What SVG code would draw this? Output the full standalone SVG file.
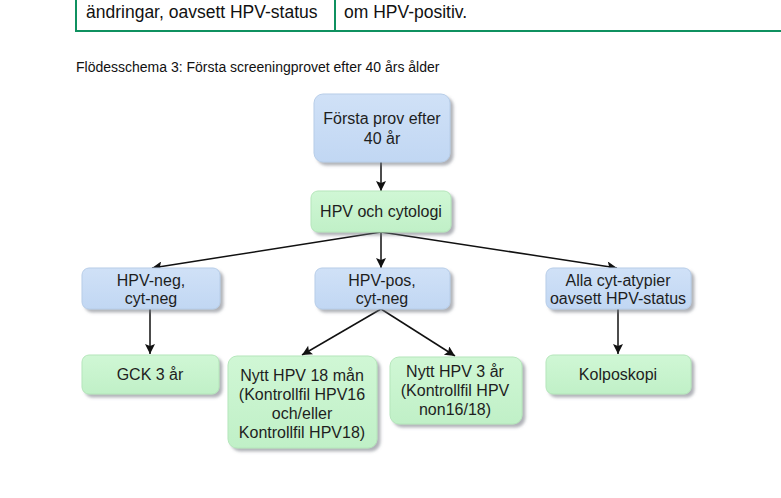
<svg xmlns="http://www.w3.org/2000/svg" width="781" height="498" viewBox="0 0 781 498">
<style>
.t{font-family:"Liberation Sans",Arial,sans-serif;fill:#1e1e1e;text-anchor:middle;font-size:16px}
.hdr{font-family:"Liberation Sans",Arial,sans-serif;fill:#111;font-size:17.5px}
.cap{font-family:"Liberation Sans",Arial,sans-serif;fill:#111;font-size:14px}
.blue{fill:url(#gb);stroke:#b7cde8;stroke-width:1;filter:url(#sh)}
.green{fill:url(#gg);stroke:#b5e6bb;stroke-width:1;filter:url(#sh)}
.c{stroke:#111;stroke-width:1.5;fill:none;marker-end:url(#ah)}
</style>
<defs>
<linearGradient id="gb" x1="0" y1="0" x2="0" y2="1"><stop offset="0" stop-color="#d0e1f7"/><stop offset="1" stop-color="#c1d7f3"/></linearGradient>
<linearGradient id="gg" x1="0" y1="0" x2="0" y2="1"><stop offset="0" stop-color="#d0f7d5"/><stop offset="1" stop-color="#c0f0c7"/></linearGradient>
<filter id="sh" x="-10%" y="-10%" width="130%" height="140%"><feDropShadow dx="3" dy="3" stdDeviation="1.8" flood-color="#6f7680" flood-opacity="0.55"/></filter>
<marker id="ah" viewBox="0 0 10 10" refX="10" refY="5" markerWidth="11" markerHeight="10" orient="auto" markerUnits="userSpaceOnUse"><path d="M0,0 L10,5 L0,10 L2,5 z" fill="#111"/></marker>
</defs>
<rect width="781" height="498" fill="#fff"/>
<g id="table">
<line x1="76" y1="0" x2="76" y2="32" stroke="#0f9160" stroke-width="2"/>
<line x1="335" y1="0" x2="335" y2="32" stroke="#0f9160" stroke-width="2"/>
<line x1="75" y1="31" x2="781" y2="31" stroke="#0f9160" stroke-width="2"/>
<text class="hdr" x="86" y="18">ändringar, oavsett HPV-status</text>
<text class="hdr" x="344" y="18">om HPV-positiv.</text>
</g>
<text class="cap" x="76" y="72">Flödesschema 3: Första screeningprovet efter 40 års ålder</text>
<g id="connectors">
<line class="c" x1="381" y1="162" x2="381" y2="191"/>
<line class="c" x1="381" y1="232" x2="152" y2="268"/>
<line class="c" x1="381" y1="232" x2="381" y2="268"/>
<line class="c" x1="381" y1="232" x2="617" y2="268"/>
<line class="c" x1="150" y1="309" x2="150" y2="354"/>
<line class="c" x1="381" y1="309" x2="302" y2="355"/>
<line class="c" x1="381" y1="309" x2="455" y2="356"/>
<line class="c" x1="618" y1="309" x2="618" y2="354"/>
</g>
<g id="n1"><rect class="blue" x="314" y="94" width="136" height="68" rx="9"/><text class="t" x="382" y="124">Första prov efter</text><text class="t" x="382" y="144">40 år</text></g>
<g id="n2"><rect class="green" x="311" y="191" width="140" height="41" rx="7"/><text class="t" x="381" y="217">HPV och cytologi</text></g>
<g id="n3"><rect class="blue" x="82" y="268" width="138" height="41" rx="7"/><text class="t" x="151" y="286">HPV-neg,</text><text class="t" x="151" y="304">cyt-neg</text></g>
<g id="n4"><rect class="blue" x="315" y="268" width="135" height="41" rx="7"/><text class="t" x="382" y="286">HPV-pos,</text><text class="t" x="382" y="304">cyt-neg</text></g>
<g id="n5"><rect class="blue" x="546" y="268" width="145" height="41" rx="7"/><text class="t" x="618" y="286">Alla cyt-atypier</text><text class="t" x="618" y="304">oavsett HPV-status</text></g>
<g id="n6"><rect class="green" x="82" y="355" width="137" height="39" rx="7"/><text class="t" x="150" y="380">GCK 3 år</text></g>
<g id="n7"><rect class="green" x="228" y="356" width="149" height="92" rx="9"/><text class="t" x="302" y="381">Nytt HPV 18 mån</text><text class="t" x="302" y="400">(Kontrollfil HPV16</text><text class="t" x="302" y="419">och/eller</text><text class="t" x="302" y="438">Kontrollfil HPV18)</text></g>
<g id="n8"><rect class="green" x="390" y="357" width="132" height="67" rx="9"/><text class="t" x="455" y="377">Nytt HPV 3 år</text><text class="t" x="455" y="396">(Kontrollfil HPV</text><text class="t" x="455" y="415">non16/18)</text></g>
<g id="n9"><rect class="green" x="546" y="355" width="145" height="39" rx="7"/><text class="t" x="618" y="380">Kolposkopi</text></g>
</svg>
